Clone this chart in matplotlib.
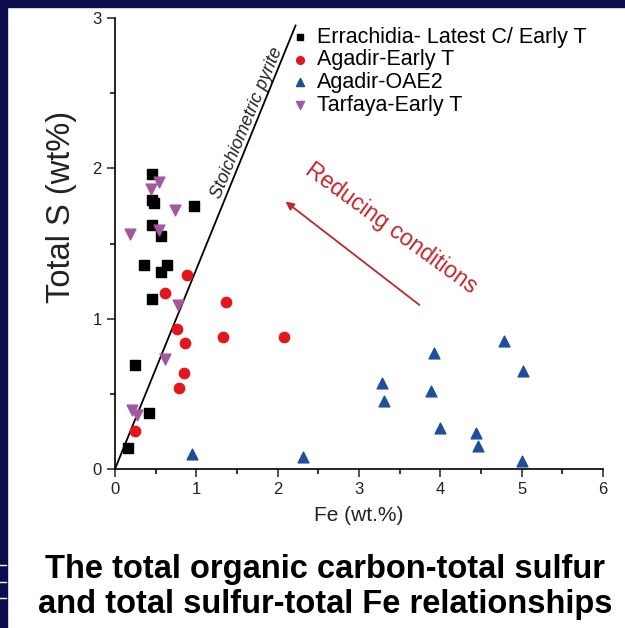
import matplotlib
matplotlib.use('Agg')
import matplotlib.pyplot as plt
from matplotlib.patches import Rectangle
from matplotlib.lines import Line2D
from matplotlib.ticker import MultipleLocator

plt.rcParams['font.family'] = ['Liberation Sans', 'DejaVu Sans']

# Errachidia - Latest C / Early T
err_fe = [0.45, 0.45, 0.48, 0.97, 0.45, 0.57, 0.36, 0.64, 0.57, 0.45, 0.25, 0.42, 0.16]
err_s = [1.96, 1.79, 1.77, 1.75, 1.62, 1.55, 1.36, 1.36, 1.31, 1.13, 0.69, 0.37, 0.14]

# Agadir - Early T
aget_fe = [0.89, 0.61, 1.37, 0.76, 0.86, 1.33, 2.08, 0.85, 0.79, 0.25]
aget_s = [1.29, 1.17, 1.11, 0.93, 0.84, 0.88, 0.88, 0.64, 0.54, 0.25]

# Agadir - OAE2
oae_fe = [0.95, 2.31, 3.28, 3.31, 3.92, 3.89, 4.00, 4.44, 4.46, 4.78, 5.02, 5.01]
oae_s = [0.10, 0.08, 0.57, 0.45, 0.77, 0.52, 0.27, 0.24, 0.15, 0.85, 0.65, 0.05]

# Tarfaya - Early T
tar_fe = [0.54, 0.44, 0.74, 0.54, 0.19, 0.78, 0.61, 0.21, 0.27]
tar_s = [1.91, 1.86, 1.72, 1.59, 1.56, 1.09, 0.73, 0.39, 0.36]

# stoichiometric pyrite line end points
pyrite_fe = [0, 2.22]
pyrite_s = [0, 2.95]

fig = plt.figure(figsize=(6.25, 6.28), dpi=100)
fig.patch.set_facecolor('white')

# slide border
navy = '#0b0b4e'
fig.patches.append(Rectangle((0, 0), 7 / 625, 1, transform=fig.transFigure, color=navy, zorder=0))
fig.patches.append(Rectangle((0, 1 - 7 / 628), 1, 7 / 628, transform=fig.transFigure, color=navy, zorder=0))
for yy in [565, 582, 598]:
    fig.lines.append(Line2D([0, 6 / 625], [1 - yy / 628] * 2, transform=fig.transFigure, color='white', lw=1))

ax = fig.add_axes([115 / 625, 1 - 469 / 628, (603 - 115) / 625, (469 - 18) / 628])

ax.plot(pyrite_fe, pyrite_s, color='black', lw=1.3, zorder=2)

ax.scatter(err_fe, err_s, marker='s', s=44, color='black', label='Errachidia- Latest C/ Early T', zorder=3)
ax.scatter(aget_fe, aget_s, marker='o', s=55, color='#e3161d', label='Agadir-Early T', zorder=3)
ax.scatter(oae_fe, oae_s, marker='^', s=60, color='#1f4e9b', label='Agadir-OAE2', zorder=3)
ax.scatter(tar_fe, tar_s, marker='v', s=60, color='#a3579f', label='Tarfaya-Early T', zorder=3)

ax.text(1.62, 2.30, 'Stoichiometric pyrite', rotation=67.5, ha='center', va='center',
        fontsize=13, style='italic', color='#222222')

ax.annotate('', xy=(2.07, 1.79), xytext=(3.77, 1.08),
            arrowprops=dict(arrowstyle='-|>', color='#c0272d', lw=1.3, mutation_scale=12))
ax.text(3.40, 1.60, 'Reducing conditions', rotation=-36, ha='center', va='center',
        fontsize=16.5, color='#c0272d')

ax.set_xlim(0, 6)
ax.set_ylim(0, 3)
ax.xaxis.set_major_locator(MultipleLocator(1))
ax.xaxis.set_minor_locator(MultipleLocator(0.5))
ax.yaxis.set_major_locator(MultipleLocator(1))
ax.yaxis.set_minor_locator(MultipleLocator(0.5))
ax.tick_params(which='major', length=6, width=1.1, labelsize=12, colors='#222222', direction='out')
ax.tick_params(which='minor', length=3.5, width=1.1, direction='out')
for side in ['top', 'right']:
    ax.spines[side].set_visible(False)
for side in ['left', 'bottom']:
    ax.spines[side].set_linewidth(1.2)

ax.set_xlabel('Fe (wt.%)', fontsize=15, color='#222222', labelpad=6)
ax.set_ylabel('Total S (wt%)', fontsize=23.5, color='#222222')
ax.yaxis.set_label_coords(-0.078, 0.58)

ax.legend(loc='upper left', bbox_to_anchor=(0.335, 1.0), frameon=False, fontsize=15.5,
          handletextpad=0.2, labelspacing=0.08, markerscale=0.75, borderaxespad=0, handlelength=1.2)

fig.text(325 / 625, 1 - 587 / 628, 'The total organic carbon-total sulfur\nand total sulfur-total Fe relationships',
         ha='center', va='center', fontsize=23.5, fontweight='bold', linespacing=1.2)

fig.savefig('out.png', dpi=100)
